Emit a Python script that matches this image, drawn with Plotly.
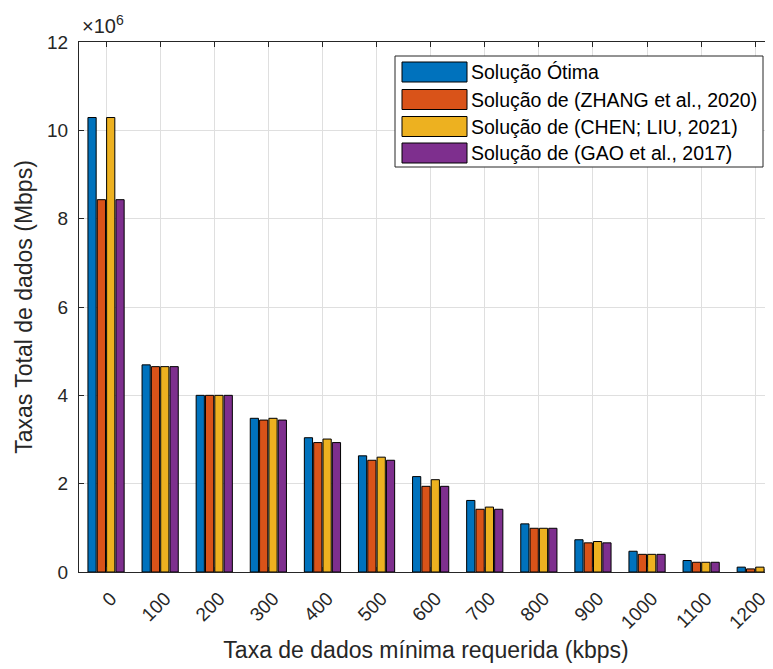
import plotly.graph_objects as go

# Data (values in units of 10^6 Mbps)
categories = [0, 100, 200, 300, 400, 500, 600, 700, 800, 900, 1000, 1100, 1200]
series_names = [
    "Solução Ótima",
    "Solução de (ZHANG et al., 2020)",
    "Solução de (CHEN; LIU, 2021)",
    "Solução de (GAO et al., 2017)",
]
otima = [10.29, 4.69, 4.00, 3.48, 3.04, 2.63, 2.16, 1.62, 1.09, 0.73, 0.47, 0.26, 0.11]
zhang = [8.43, 4.65, 4.00, 3.44, 2.93, 2.53, 1.94, 1.42, 0.99, 0.66, 0.40, 0.22, 0.07]
chen = [10.29, 4.65, 4.00, 3.48, 3.01, 2.60, 2.09, 1.47, 0.99, 0.69, 0.40, 0.22, 0.11]
gao = [8.43, 4.65, 4.00, 3.44, 2.93, 2.53, 1.94, 1.42, 0.99, 0.66, 0.40, 0.22, 0.07]
y_ticks = [0, 2, 4, 6, 8, 10, 12]

colors = ["#0072BD", "#D95319", "#EDB120", "#7E2F8E"]
FONT = "Liberation Sans, Arial, sans-serif"
TXT = "#262626"

OFF = 8  # page body margin
W, H = 773 - OFF, 669 - OFF
L, R, T, B = 79 - OFF, 0, 42 - OFF, 97

fig = go.Figure()
for name, vals, c in zip(series_names, [otima, zhang, chen, gao], colors):
    fig.add_trace(go.Bar(
        x=categories, y=vals, name=name,
        marker=dict(color=c, line=dict(color="black", width=1)),
        showlegend=False,
    ))

# plot-area pixel (page coordinates) -> paper conversion
pw = W - L - R
ph = H - T - B
def px(x):
    return (x - OFF - L) / pw
def py(y):
    return (H - B - (y - OFF)) / ph

shapes = []
annotations = []
# custom legend box
shapes.append(dict(type="rect", xref="paper", yref="paper",
                   x0=px(395), x1=px(763), y0=py(56), y1=py(167),
                   line=dict(color=TXT, width=1), fillcolor="white", layer="above"))
row_y = [72, 99.5, 126.5, 153]
for i, (name, c) in enumerate(zip(series_names, colors)):
    yc = row_y[i]
    shapes.append(dict(type="rect", xref="paper", yref="paper",
                       x0=px(402), x1=px(467), y0=py(yc + 10), y1=py(yc - 10),
                       line=dict(color="black", width=1), fillcolor=c, layer="above"))
    annotations.append(dict(xref="paper", yref="paper", x=px(469), y=py(yc),
                            xanchor="left", yanchor="middle", showarrow=False,
                            text=name, font=dict(family=FONT, size=19.5, color="black")))

# exponent label
annotations.append(dict(xref="paper", yref="paper", x=px(80), y=py(39),
                        xanchor="left", yanchor="bottom", showarrow=False,
                        text="×10<sup>6</sup>", font=dict(family=FONT, size=20, color=TXT)))

fig.update_layout(
    width=W, height=H,
    margin=dict(l=L, r=R, t=T, b=B, pad=0),
    paper_bgcolor="white", plot_bgcolor="white",
    barmode="group", bargap=0.31, bargroupgap=0.12,
    font=dict(family=FONT, size=19, color=TXT),
    shapes=shapes, annotations=annotations,
    xaxis=dict(
        range=[-50, -50 + pw / 0.541], tickvals=categories,
        ticktext=[str(c) for c in categories], tickangle=-45,
        showgrid=True, gridcolor="#dfdfdf", gridwidth=1,
        showline=True, linecolor=TXT, linewidth=1, mirror="ticks",
        ticks="inside", ticklen=5, tickcolor=TXT,
        ticklabelstandoff=7, ticklabelshift=5,
        tickfont=dict(family=FONT, size=19, color=TXT),
        title=dict(text="Taxa de dados mínima requerida (kbps)", standoff=10,
                   font=dict(family=FONT, size=23, color=TXT)),
        zeroline=False,
    ),
    yaxis=dict(
        range=[0, 12], tickvals=y_ticks, ticktext=[str(v) for v in y_ticks],
        showgrid=True, gridcolor="#dfdfdf", gridwidth=1,
        showline=True, linecolor=TXT, linewidth=1, mirror=False,
        ticks="inside", ticklen=5, tickcolor=TXT,
        ticklabelstandoff=6,
        tickfont=dict(family=FONT, size=19, color=TXT),
        title=dict(text="Taxas Total de dados (Mbps)", standoff=8,
                   font=dict(family=FONT, size=23, color=TXT)),
        zeroline=False,
    ),
)

fig.write_html("out.html")
